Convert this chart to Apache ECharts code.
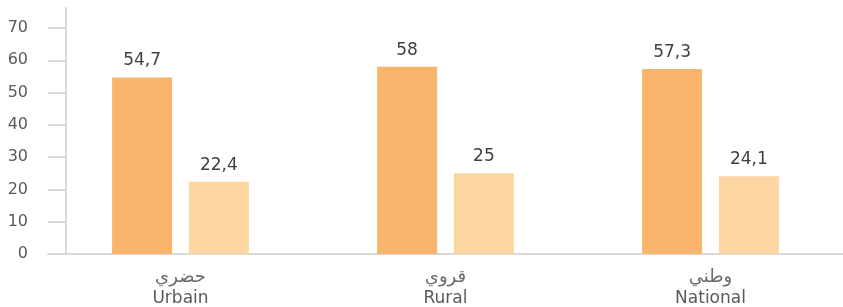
<!DOCTYPE html>
<html><head><meta charset="utf-8">
<script src="https://cdn.jsdelivr.net/npm/echarts@6/dist/echarts.min.js"></script>
<style>html,body{margin:0;padding:0;background:#fff}#c{width:843px;height:307px}</style>
</head><body><div id="c"></div>
<script>
var categoriesAr = ['حضري', 'قروي', 'وطني'];
var categoriesFr = ['Urbain', 'Rural', 'National'];
var seriesA = [54.7, 58, 57.3];
var seriesB = [22.4, 25, 24.1];
var yTicks = [0, 10, 20, 30, 40, 50, 60, 70];

var categories = categoriesFr.map(function (f, i) { return categoriesAr[i] + '|' + f; });
var chart = echarts.init(document.getElementById('c'), null, {renderer: 'canvas'});
function fmt(p) { return String(p.value).replace('.', ','); }
var labelStyle = {show: true, position: 'top', distance: 8, color: '#404040', fontSize: 17, fontFamily: 'DejaVu Sans', formatter: fmt};
chart.setOption({
  animation: false,
  grid: {left: 48, width: 801, top: 8, height: 246},
  xAxis: {
    type: 'category', data: categories,
    axisLine: {show: true, lineStyle: {color: '#d9d9d9', width: 2}},
    axisTick: {show: false},
    axisLabel: {
      margin: 13,
      formatter: function (v) { var p = v.split('|'); return '{ar|' + p[0] + '}\n{fr|' + p[1] + '}'; },
      rich: {
        ar: {color: '#6a6a6a', fontSize: 18, fontFamily: 'DejaVu Sans', lineHeight: 21, align: 'center'},
        fr: {color: '#595959', fontSize: 17, fontFamily: 'DejaVu Sans', lineHeight: 21, align: 'center'}
      }
    }
  },
  yAxis: {
    type: 'value', min: 0, max: 76.2, offset: -18,
    axisLine: {show: true, lineStyle: {color: '#d9d9d9', width: 2}},
    axisTick: {show: true, length: 18, lineStyle: {color: '#d9d9d9', width: 2}, customValues: yTicks},
    axisLabel: {color: '#595959', fontSize: 16, fontFamily: 'DejaVu Sans', margin: 38, customValues: yTicks},
    splitLine: {show: false}
  },
  series: [
    {type: 'bar', data: seriesA, barWidth: 60, barGap: '28%', itemStyle: {color: '#F8B56B'}, label: labelStyle},
    {type: 'bar', data: seriesB, barWidth: 60, itemStyle: {color: '#FDD6A2'}, label: labelStyle}
  ]
});
</script></body></html>
